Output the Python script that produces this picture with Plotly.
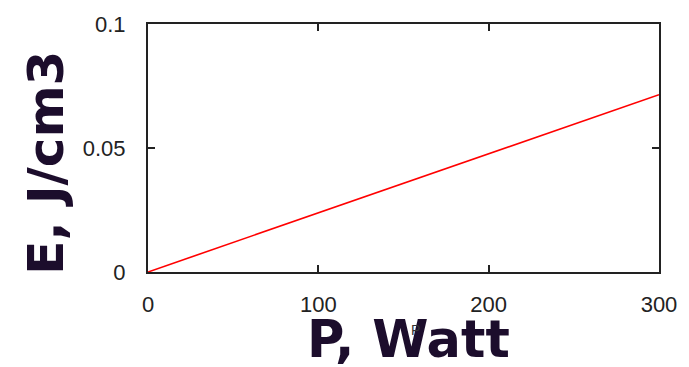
import plotly.graph_objects as go

# Data
power_w = [0, 100, 200, 300]
energy_j_cm3 = [0, 0.0238, 0.0477, 0.0715]

x_ticks = [0, 100, 200, 300]
x_tick_labels = ["0", "100", "200", "300"]
y_ticks = [0, 0.05, 0.1]
y_tick_labels = ["0", "0.05", "0.1"]

title_color = "#1c0d2c"
tick_font = dict(family="Liberation Sans", size=22, color="#222222")

fig = go.Figure()
fig.add_trace(go.Scatter(x=power_w, y=energy_j_cm3, mode="lines",
                         line=dict(color="#ff0000", width=1.6),
                         showlegend=False, hoverinfo="skip"))

axis_common = dict(showgrid=False, zeroline=False, showline=True, linecolor="#222222",
                   linewidth=2, ticks="inside", ticklen=7, tickwidth=2,
                   tickcolor="#222222", mirror="allticks", tickfont=tick_font)

fig.update_xaxes(range=[0, 300], tickvals=x_ticks, ticktext=x_tick_labels,
                 ticklabelstandoff=12, **axis_common)
fig.update_yaxes(range=[0, 0.1], tickvals=y_ticks, ticktext=y_tick_labels,
                 ticklabelstandoff=16, **axis_common)

fig.add_annotation(text="P, Watt", xref="paper", yref="paper", x=0.51, y=-0.145,
                   xanchor="center", yanchor="top", showarrow=False,
                   font=dict(family="DejaVu Sans", size=51, color=title_color, weight="bold"))
fig.add_annotation(text="E, J/cm3", xref="paper", yref="paper", x=-0.2, y=0.44,
                   xanchor="center", yanchor="middle", showarrow=False, textangle=-90,
                   font=dict(family="DejaVu Sans", size=50, color=title_color, weight="bold"))
fig.add_annotation(text="P", xref="paper", yref="paper", x=0.523, y=-0.235,
                   xanchor="center", yanchor="middle", showarrow=False,
                   font=dict(family="Liberation Sans", size=14, color="#333333"))

fig.update_layout(width=689, height=367,
                  margin=dict(l=148, r=26, t=16, b=95),
                  plot_bgcolor="white", paper_bgcolor="white")

fig.write_html("out.html")
